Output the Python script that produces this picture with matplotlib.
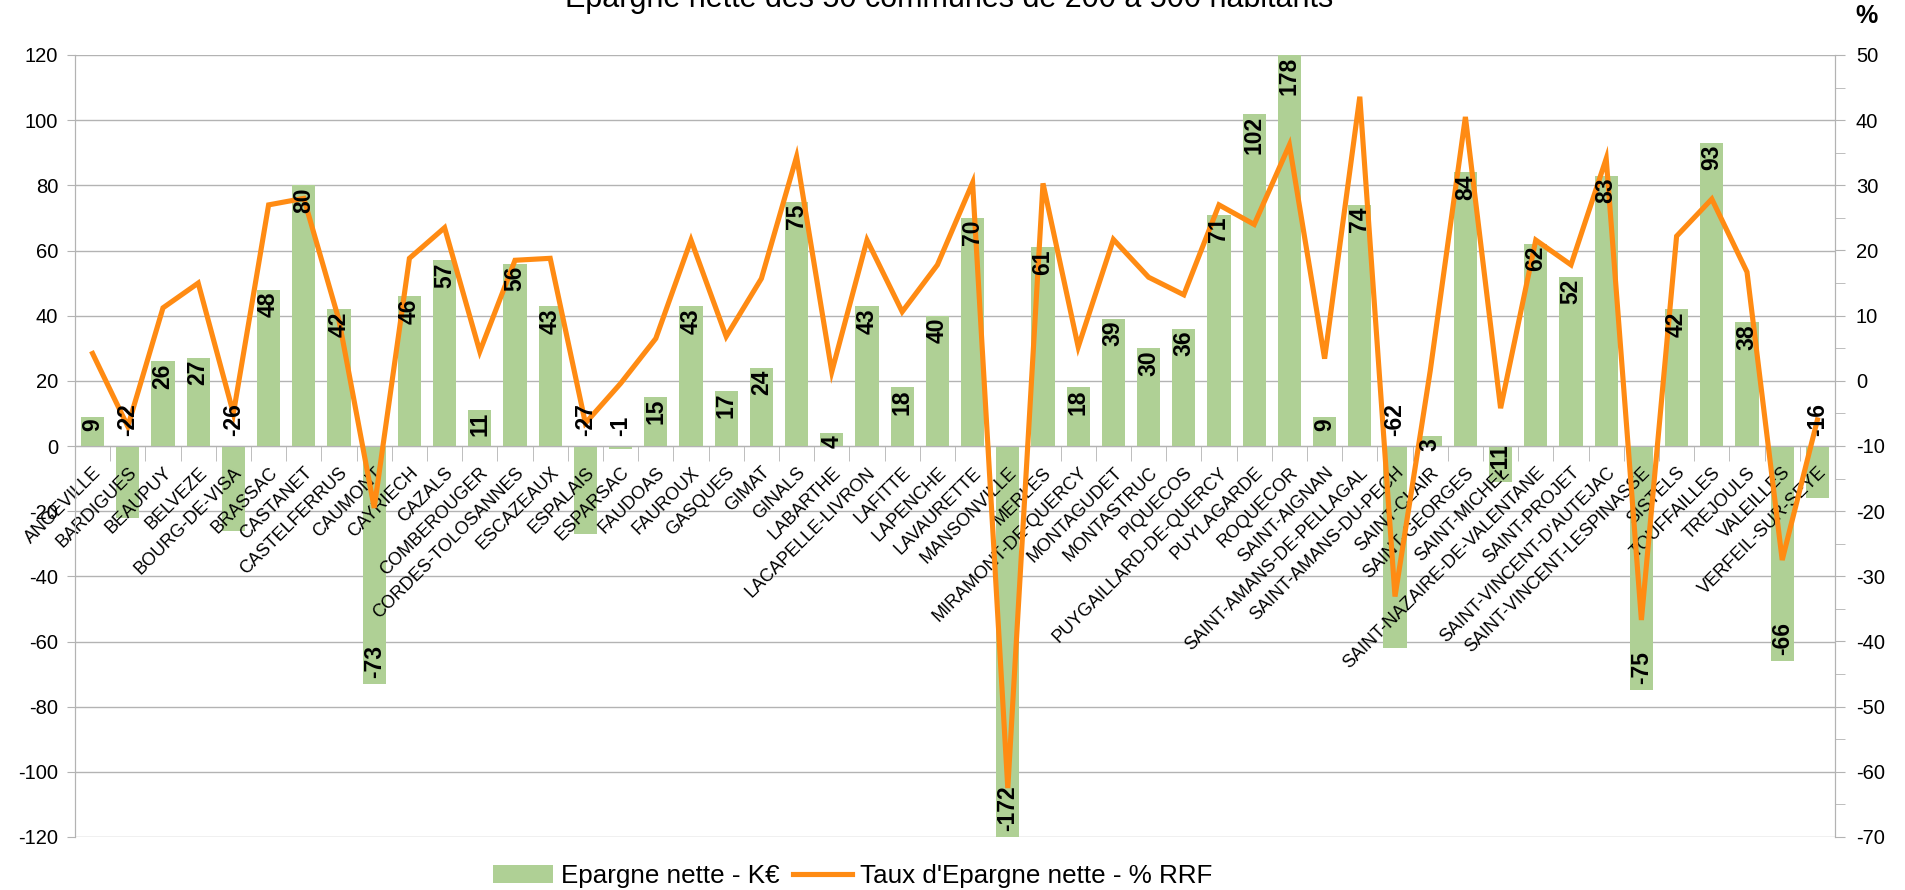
import numpy as np
import matplotlib.pyplot as plt

plt.rcParams['font.family'] = ['Liberation Sans', 'DejaVu Sans']
plt.rcParams['axes.unicode_minus'] = False

communes = ['ANGEVILLE', 'BARDIGUES', 'BEAUPUY', 'BELVEZE', 'BOURG-DE-VISA', 'BRASSAC',
            'CASTANET', 'CASTELFERRUS', 'CAUMONT', 'CAYRIECH', 'CAZALS', 'COMBEROUGER',
            'CORDES-TOLOSANNES', 'ESCAZEAUX', 'ESPALAIS', 'ESPARSAC', 'FAUDOAS', 'FAUROUX',
            'GASQUES', 'GIMAT', 'GINALS', 'LABARTHE', 'LACAPELLE-LIVRON', 'LAFITTE',
            'LAPENCHE', 'LAVAURETTE', 'MANSONVILLE', 'MERLES', 'MIRAMONT-DE-QUERCY',
            'MONTAGUDET', 'MONTASTRUC', 'PIQUECOS', 'PUYGAILLARD-DE-QUERCY', 'PUYLAGARDE',
            'ROQUECOR', 'SAINT-AIGNAN', 'SAINT-AMANS-DE-PELLAGAL', 'SAINT-AMANS-DU-PECH',
            'SAINT-CLAIR', 'SAINT-GEORGES', 'SAINT-MICHEL', 'SAINT-NAZAIRE-DE-VALENTANE',
            'SAINT-PROJET', "SAINT-VINCENT-D'AUTEJAC", 'SAINT-VINCENT-LESPINASSE', 'SISTELS',
            'TOUFFAILLES', 'TREJOULS', 'VALEILLES', 'VERFEIL-SUR-SEYE']

# Epargne nette en K€
epargne = [9, -22, 26, 27, -26, 48, 80, 42, -73, 46, 57, 11, 56, 43, -27, -1, 15, 43,
           17, 24, 75, 4, 43, 18, 40, 70, -172, 61, 18, 39, 30, 36, 71, 102,
           178, 9, 74, -62, 3, 84, -11, 62, 52, 83, -75, 42, 93, 38, -66, -16]

# Taux d'epargne nette en % des RRF
taux = [4.2, -7.0, 11.2, 15.0, -5.0, 27.0, 28.0, 9.3, -19.5, 18.8, 23.5, 4.5, 18.5, 18.8,
        -6.5, -0.4, 6.5, 21.6, 6.8, 15.7, 34.4, 1.4, 21.6, 10.6, 17.8, 30.4, -62.5, 30.3,
        5.2, 21.7, 15.9, 13.2, 27.0, 24.0, 36.2, 3.4, 43.6, -33.1, 1.5, 40.5, -4.2, 21.6,
        17.8, 34.1, -36.7, 22.2, 27.9, 16.7, -27.5, -6.0]

# negative labels that LibreOffice put just above the zero line
labels_above_zero = ['BARDIGUES', 'BOURG-DE-VISA', 'ESPALAIS', 'ESPARSAC',
                     'SAINT-AMANS-DU-PECH', 'VERFEIL-SUR-SEYE']

grey = '#b3b3b3'
green = '#afd095'
orange = '#ff8b13'

fig = plt.figure(figsize=(19.05, 8.9), dpi=100)
ax = fig.add_axes([75 / 1905, 53 / 890, 1760 / 1905, 782 / 890])
ax2 = ax.twinx()

x = np.arange(len(communes))
ax.bar(x, epargne, width=0.66, color=green, zorder=2, label='Epargne nette - K€')
ax.set_xlim(-0.5, len(communes) - 0.5)
ax.set_ylim(-120, 120)
ax.set_yticks(np.arange(-120, 121, 20))
ax.grid(axis='y', color=grey, linewidth=1)
ax.set_axisbelow(True)
ax.xaxis.set_zorder(3)  # category names drawn over the bars

ax2.plot(x, taux, color=orange, linewidth=3.7, solid_joinstyle='miter',
         label="Taux d'Epargne nette - % RRF")
ax2.set_ylim(-70, 50)
ax2.set_yticks(np.arange(-70, 51, 10))
ax2.set_yticks(np.arange(-65, 50, 10), minor=True)

for a in (ax, ax2):
    a.spines['top'].set_visible(False)
    for s in ('left', 'right', 'bottom'):
        a.spines[s].set_color(grey)
ax.spines['bottom'].set_position(('data', 0))
ax2.spines['bottom'].set_visible(False)

ax.tick_params(axis='y', length=6, color=grey, labelsize=14.5, pad=6)
ax2.tick_params(axis='y', which='major', length=7, color=grey, labelsize=14.5, pad=8)
ax2.tick_params(axis='y', which='minor', length=7, color=grey)

ax.set_xticks(x)
ax.set_xticklabels(communes, rotation=45, ha='right', rotation_mode='anchor', fontsize=13)
ax.set_xticks(np.arange(-0.5, len(communes)), minor=True)
ax.tick_params(axis='x', which='major', length=0, pad=13)
ax.tick_params(axis='x', which='minor', length=11, color=grey, direction='out')

# data labels on top of everything
for i, (name, v) in enumerate(zip(communes, epargne)):
    if v >= 0:
        y, dy, va = min(v, 120), -2, 'top'
    elif name in labels_above_zero:
        y, dy, va = 0, 10, 'bottom'
    else:
        y, dy, va = max(v, -120), 6, 'bottom'
    ax2.annotate(str(v), xy=(i, y), xycoords=ax.transData, xytext=(0, dy),
                 textcoords='offset pixels', rotation=90, ha='center', va=va,
                 fontsize=16.5, fontweight='bold', annotation_clip=False, zorder=5)

fig.text(949 / 1905, 1 - 7 / 890, 'Epargne nette des 50 communes de 200 à 500 habitants',
         ha='center', va='baseline', fontsize=22)
fig.text(1867 / 1905, 1 - 16 / 890, '%', ha='center', va='center', fontsize=18,
         fontweight='bold')

h1, l1 = ax.get_legend_handles_labels()
h2, l2 = ax2.get_legend_handles_labels()
fig.legend(h1 + h2, l1 + l2, loc='center', bbox_to_anchor=(853 / 1905, 14 / 890), ncol=2,
           frameon=False, fontsize=18.7, handlelength=2.3, handleheight=0.7,
           handletextpad=0.3, columnspacing=0.5)

fig.savefig('out.png', dpi=100)
